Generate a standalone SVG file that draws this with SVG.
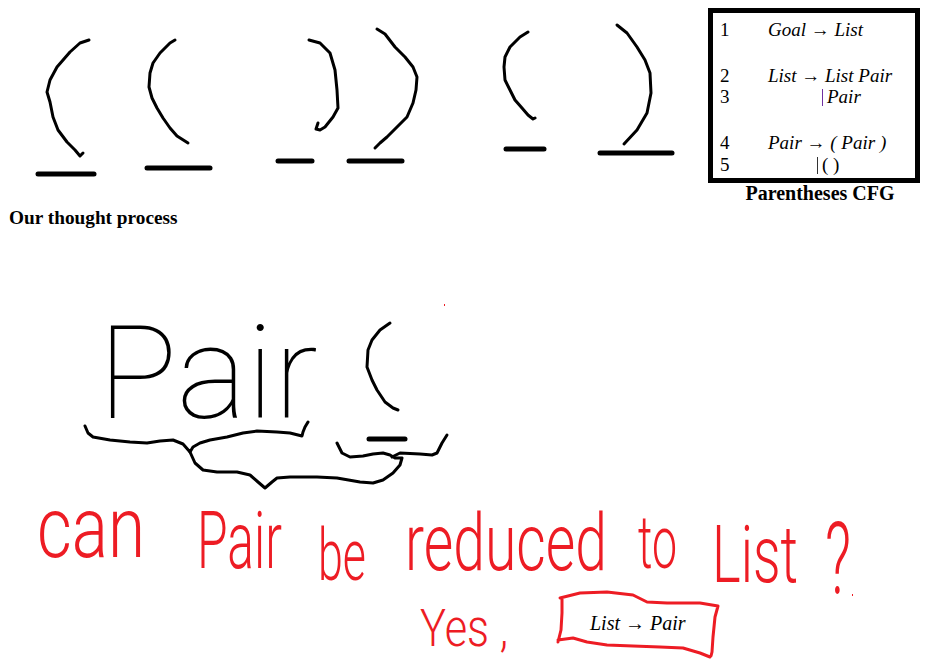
<svg xmlns="http://www.w3.org/2000/svg" width="932" height="661" viewBox="0 0 932 661">
<style>
.ink{fill:none;stroke:#000;stroke-width:3;stroke-linecap:round;stroke-linejoin:round}
.bar{stroke:#000;stroke-width:5;stroke-linecap:round}
.red{fill:none;stroke:#ed1c24;stroke-width:3;stroke-linecap:round;stroke-linejoin:round}
.hand{font-family:Roboto,"Open Sans","Liberation Sans",sans-serif;font-weight:100}
.hr{fill:#ed1c24;font-weight:300}
.cfg{font-family:"Liberation Serif","Times New Roman",serif;font-size:19px;fill:#000}
.it{font-style:italic}
.cap{font-family:"Liberation Serif","Times New Roman",serif;font-weight:bold;font-size:19px;fill:#000}
</style>
<rect width="932" height="661" fill="#fff"/>

<g id="stack-top">
  <polyline class="ink" points="89,40 80,43 70,52 57,67 50,80 47,92 50,102 53,117 58,130 67,142 75,150 80,156 83,153"/>
  <line class="bar" x1="38" y1="174" x2="94" y2="174"/>
  <polyline class="ink" points="175,40 170,43 160,53 153,63 150,73 149,87 152,98 157,108 163,118 170,128 177,136 188,143"/>
  <line class="bar" x1="147" y1="168" x2="210" y2="168"/>
  <polyline class="ink" points="309,40 320,43 330,53 335,70 337,90 338,108 333,117 325,127 320,130 316,129 318,123"/>
  <line class="bar" x1="278" y1="161" x2="312" y2="161"/>
  <polyline class="ink" points="377,29 385,34 395,47 405,57 413,67 417,77 416,90 413,103 407,117 397,127 387,137 380,143 375,148"/>
  <line class="bar" x1="349" y1="161" x2="402" y2="161"/>
  <polyline class="ink" points="528,32 520,37 510,47 505,57 504,67 505,80 510,90 515,100 522,108 528,115 533,119 535,118"/>
  <line class="bar" x1="506" y1="149" x2="544" y2="149"/>
  <polyline class="ink" points="617,25 627,33 637,47 645,60 650,73 651,93 647,113 637,130 624,144"/>
  <line class="bar" x1="600" y1="153" x2="672" y2="153"/>
  <text class="cap" x="9" y="224" style="font-size:19.3px">Our thought process</text>
</g>

<g id="cfg">
  <rect x="710.5" y="10.5" width="207" height="170" fill="none" stroke="#000" stroke-width="5"/>
  <text class="cfg" x="720" y="36">1</text>
  <text class="cfg it" x="768" y="36">Goal → List</text>
  <text class="cfg" x="720" y="82">2</text>
  <text class="cfg it" x="768" y="82">List → List Pair</text>
  <text class="cfg" x="720" y="103">3</text>
  <line x1="822.5" y1="89" x2="822.5" y2="106" stroke="#7030a0" stroke-width="1"/>
  <text class="cfg it" x="827" y="103">Pair</text>
  <text class="cfg" x="720" y="149">4</text>
  <text class="cfg it" x="768" y="149">Pair → ( Pair )</text>
  <text class="cfg" x="720" y="171">5</text>
  <line x1="817.5" y1="157" x2="817.5" y2="174" stroke="#333" stroke-width="1"/>
  <text class="cfg" x="822" y="171">( )</text>
  <text class="cap" x="820" y="200" text-anchor="middle" style="font-size:20px">Parentheses CFG</text>
</g>

<g id="pair-stack">
  <text class="hand" x="98" y="418" font-size="130" fill="#000" textLength="220" lengthAdjust="spacingAndGlyphs">Pair</text>
  <polyline class="ink" points="390,323 380,330 372,340 368,350 367,367 372,380 377,390 385,402 393,408 398,410"/>
  <line class="bar" x1="369" y1="439" x2="405" y2="439"/>
  <polyline class="ink" points="85,426 88,433 93,437 110,440 130,442 147,443 160,441 173,440 183,444 190,452 193,447 200,443 210,440 227,437 243,433 257,431 277,432 290,433 302,436 303,432 305,427 308,422"/>
  <polyline class="ink" points="190,452 195,463 203,470 217,472 237,472 250,475 258,482 265,488 272,482 277,478 290,477 317,477 337,478 360,482 373,483 383,480 393,473 400,465 402,458 395,458 390,455 383,453 373,454 363,456 350,457 342,453 337,443"/>
  <polyline class="ink" points="392,457 400,453 420,454 432,455 437,453 442,443 447,435"/>
</g>

<g id="question">
  <rect x="444" y="304" width="1" height="2" fill="#ed1c24"/>
  <text class="hand hr" transform="translate(37,557) scale(1,1.29)" font-size="66" textLength="108" lengthAdjust="spacingAndGlyphs">can</text>
  <text class="hand hr" transform="translate(197,568) scale(1,1.45)" font-size="55" textLength="85" lengthAdjust="spacingAndGlyphs">Pair</text>
  <text class="hand hr" transform="translate(318,580) scale(1,1.64)" font-size="44" textLength="48" lengthAdjust="spacingAndGlyphs">be</text>
  <text class="hand hr" transform="translate(405,570) scale(1,1.42)" font-size="56" textLength="202" lengthAdjust="spacingAndGlyphs">reduced</text>
  <text class="hand hr" transform="translate(638,568) scale(1,1.73)" font-size="43" textLength="39" lengthAdjust="spacingAndGlyphs">to</text>
  <text class="hand hr" transform="translate(712,582) scale(1,1.51)" font-size="53" textLength="86" lengthAdjust="spacingAndGlyphs">List</text>
  <text class="hand hr" transform="translate(825,594) scale(1,1.82)" font-size="55" textLength="26" lengthAdjust="spacingAndGlyphs">?</text>
</g>

<g id="answer">
  <text class="hand hr" transform="translate(420,646) scale(1,1.24)" font-size="42" textLength="88" lengthAdjust="spacingAndGlyphs">Yes ,</text>
  <path class="red" d="M560,598 L580,593 L607,592 L633,595 L647,602 L667,603 L700,603 L718,606 L715,617 L713,637 L712,652 L711,656 M562,598 L562,613 L561,630 L558,642 M558,640 L573,638 L587,642 L607,645 L633,646 L660,647 L683,648 L700,653 L710,657"/>
  <text class="cfg it" x="590" y="630" style="font-size:20px">List → Pair</text>
  <rect x="852" y="594" width="1" height="2" fill="#ed1c24"/>
</g>
</svg>
